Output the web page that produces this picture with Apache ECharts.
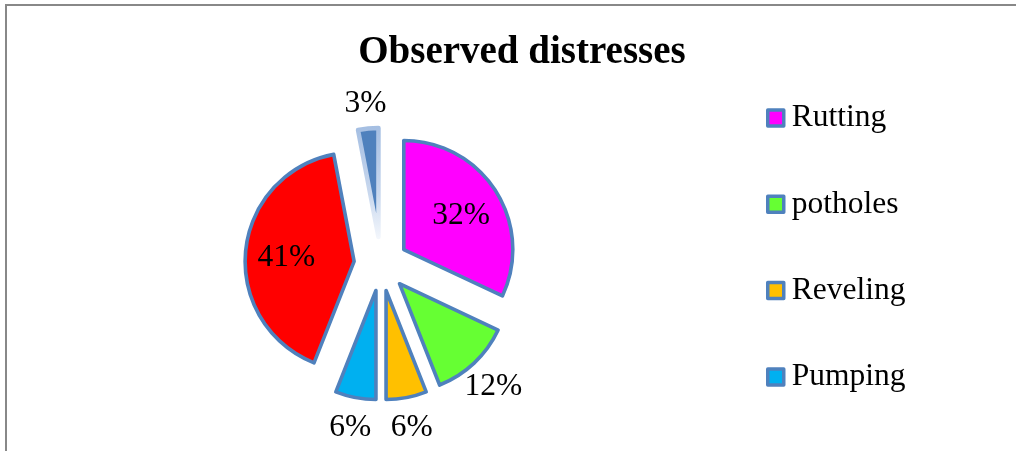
<!DOCTYPE html>
<html>
<head>
<meta charset="utf-8">
<script src="https://cdn.jsdelivr.net/npm/echarts@6/dist/echarts.min.js"></script>
<style>
  html, body { margin: 0; padding: 0; background: #ffffff; }
  #chart { width: 1025px; height: 451px; }
</style>
</head>
<body>
<div id="chart"></div>
<script>
// Share of observed pavement distresses (percent)
const categories = ['Rutting', 'potholes', 'Reveling', 'Pumping', 'Slice 5', 'Slice 6'];
const shares = [32, 12, 6, 6, 41, 3];
const sliceColors = ['#FF00FF', '#66FF33', '#FFC000', '#00B0F0', '#FF0000', '#4F81BD'];
const legendNames = ['Rutting', 'potholes', 'Reveling', 'Pumping'];
// where each percentage label sits: inside the slice or just beyond its rim
const labelPlacement = ['in', 'out', 'out', 'out', 'in', 'out'];

const FONT = '"Liberation Serif", "Times New Roman", serif';
const EDGE = '#4F81BD';
const CENTER = [381, 264];
// label rings sit a touch lower so the serif digits centre on their anchor
const LABEL_CENTER = [381, 267];
const OFFSET = 27;

function sliceStyle(i) {
  if (i === categories.length - 1) {
    // the thin top slice carries a pale, fading outline
    return {
      color: sliceColors[i],
      borderWidth: 4.5,
      borderColor: {
        type: 'linear', x: 0, y: 0, x2: 0, y2: 1,
        colorStops: [
          { offset: 0, color: '#A4BEE2' },
          { offset: 0.6, color: '#C9D8EE' },
          { offset: 1, color: '#F4F7FC' }
        ]
      }
    };
  }
  return { color: sliceColors[i], borderColor: EDGE, borderWidth: 3.6 };
}

const pieData = categories.map((name, i) => ({
  name: name,
  value: shares[i],
  selected: true,
  itemStyle: sliceStyle(i),
  select: { itemStyle: sliceStyle(i) }
}));

function labelData(where) {
  return categories.map((name, i) => ({
    name: name,
    value: shares[i],
    selected: true,
    label: { show: labelPlacement[i] === where }
  }));
}

const common = {
  type: 'pie',
  startAngle: 90,
  clockwise: true,
  selectedMode: 'multiple',
  selectedOffset: OFFSET,
  avoidLabelOverlap: false,
  labelLine: { show: false },
  emphasis: { scale: false, disabled: true }
};

const labelStyle = {
  position: 'inner',
  formatter: p => p.value + '%',
  fontFamily: FONT,
  fontSize: 31.5,
  color: '#000000'
};

const chart = echarts.init(document.getElementById('chart'), null, { renderer: 'canvas' });
chart.setOption({
  animation: false,
  backgroundColor: '#ffffff',
  title: {
    text: 'Observed distresses',
    left: 517,
    textAlign: 'center',
    top: 28,
    textStyle: { fontFamily: FONT, fontSize: 39, fontWeight: 'bold', color: '#000000' }
  },
  legend: {
    data: legendNames,
    orient: 'vertical',
    left: 761,
    top: 97,
    itemWidth: 16,
    itemHeight: 16,
    itemGap: 54.3,
    icon: 'rect',
    selectedMode: false,
    itemStyle: { borderColor: EDGE, borderWidth: 3.5 },
    textStyle: { fontFamily: FONT, fontSize: 31.5, color: '#000000', lineHeight: 32, padding: [0, 0, 0, 3] }
  },
  graphic: [
    // chart frame: left and top edges
    { type: 'line', shape: { x1: 6, y1: 5, x2: 6, y2: 451 }, style: { stroke: '#888888', lineWidth: 2 }, silent: true },
    { type: 'line', shape: { x1: 5, y1: 5, x2: 1016, y2: 5 }, style: { stroke: '#888888', lineWidth: 2 }, silent: true }
  ],
  series: [
    Object.assign({}, common, {
      name: 'distresses',
      center: CENTER,
      radius: [0, 109],
      label: { show: false },
      data: pieData
    }),
    Object.assign({}, common, {
      name: 'inner labels',
      center: LABEL_CENTER,
      radius: [0, 130],
      silent: true,
      itemStyle: { color: 'rgba(0,0,0,0)', borderWidth: 0 },
      select: { itemStyle: { color: 'rgba(0,0,0,0)', borderWidth: 0 } },
      label: labelStyle,
      data: labelData('in')
    }),
    Object.assign({}, common, {
      name: 'outer labels',
      center: LABEL_CENTER,
      radius: [116, 152],
      silent: true,
      itemStyle: { color: 'rgba(0,0,0,0)', borderWidth: 0 },
      select: { itemStyle: { color: 'rgba(0,0,0,0)', borderWidth: 0 } },
      label: labelStyle,
      data: labelData('out')
    })
  ]
});
</script>
</body>
</html>
